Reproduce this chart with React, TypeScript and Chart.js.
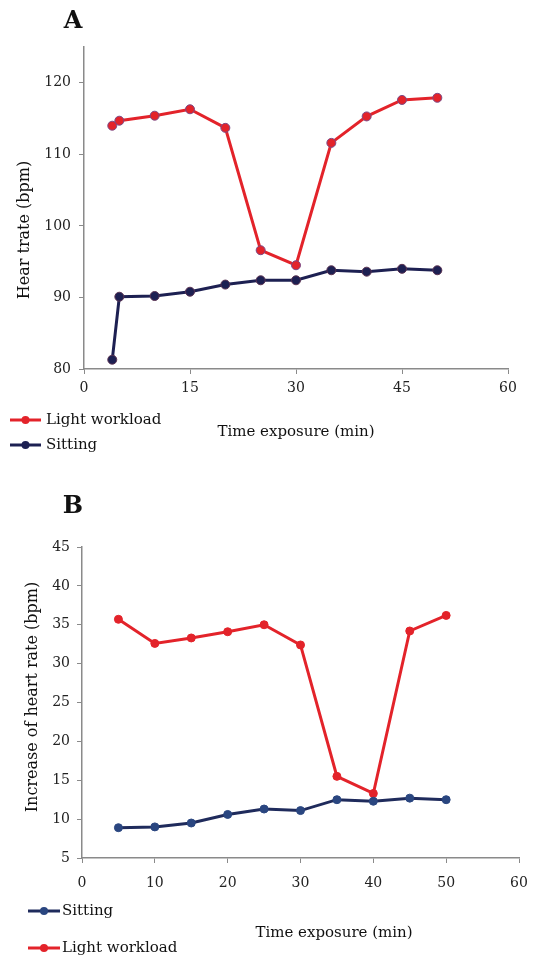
import React, { useEffect, useRef } from "react";
import { Chart, registerables } from "chart.js";
Chart.register(...registerables);

// ---------- Data ----------
const timeA = [4, 5, 10, 15, 20, 25, 30, 35, 40, 45, 50];
const lightA = [114.0, 114.7, 115.4, 116.3, 113.7, 96.6, 94.5, 111.6, 115.3, 117.6, 117.9];
const sittingA = [81.3, 90.1, 90.2, 90.8, 91.8, 92.4, 92.4, 93.8, 93.6, 94.0, 93.8];

const timeB = [5, 10, 15, 20, 25, 30, 35, 40, 45, 50];
const sittingB = [8.9, 9.0, 9.5, 10.6, 11.3, 11.1, 12.5, 12.3, 12.7, 12.5];
const lightB = [35.7, 32.6, 33.3, 34.1, 35.0, 32.4, 15.5, 13.3, 34.2, 36.2];

const labelLight = "Light workload";
const labelSitting = "Sitting";
const xTitleText = "Time exposure (min)";
const yTitleA = "Hear trate (bpm)";
const yTitleB = "Increase of heart rate (bpm)";

const FONT = "'DejaVu Serif', serif";
const RED = "#e3232a";
const NAVY_A = "#1d2052";
const NAVY_B = "#1f2b5c";

const toPts = (xs: number[], ys: number[]) => xs.map((x, i) => ({ x, y: ys[i] }));

const extrasPlugin = {
  id: "extras",
  afterDraw(chart: any, _args: any, opts: any) {
    const ctx = chart.ctx as CanvasRenderingContext2D;
    ctx.save();
    ctx.fillStyle = "#111";
    ctx.textAlign = "center";
    ctx.textBaseline = "middle";
    ctx.font = `bold 24px ${FONT}`;
    ctx.fillText(opts.letter, opts.letterX, opts.letterY);

    ctx.font = `15px ${FONT}`;
    ctx.fillText(opts.xTitle, opts.xTitleX, opts.xTitleY);

    ctx.save();
    ctx.font = `16px ${FONT}`;
    ctx.translate(opts.yTitleX, opts.yTitleY);
    ctx.rotate(-Math.PI / 2);
    ctx.fillText(opts.yTitle, 0, 0);
    ctx.restore();

    (opts.legend || []).forEach((item: any) => {
      const ds = chart.data.datasets[item.index];
      ctx.strokeStyle = ds.borderColor;
      ctx.lineWidth = 3;
      ctx.beginPath();
      ctx.moveTo(item.x0, item.y);
      ctx.lineTo(item.x1, item.y);
      ctx.stroke();
      ctx.fillStyle = ds.pointBackgroundColor;
      ctx.beginPath();
      ctx.arc((item.x0 + item.x1) / 2, item.y, 4, 0, Math.PI * 2);
      ctx.fill();
      ctx.fillStyle = "#111";
      ctx.textAlign = "left";
      ctx.font = `15px ${FONT}`;
      ctx.fillText(ds.label, item.tx, item.y);
    });
    ctx.restore();
  },
};

function makeScales(opts: {
  xMax: number; xStep: number; yMin: number; yMax: number; yStep: number;
  yWidth: number; xHeight: number; xPad: number; yPad: number;
}) {
  const axisColor = "#8a8a8a";
  const tickFont = { family: FONT, size: 14 };
  return {
    x: {
      type: "linear",
      min: 0,
      max: opts.xMax,
      border: { display: true, color: axisColor, width: 1.5 },
      grid: { display: true, drawOnChartArea: false, drawTicks: true, tickLength: 5, color: axisColor },
      ticks: { stepSize: opts.xStep, font: tickFont, color: "#222", padding: opts.xPad, maxRotation: 0 },
      afterFit: (s: any) => { s.height = opts.xHeight; },
    },
    y: {
      type: "linear",
      min: opts.yMin,
      max: opts.yMax,
      border: { display: true, color: axisColor, width: 1.5 },
      grid: { display: true, drawOnChartArea: false, drawTicks: true, tickLength: 5, color: axisColor },
      ticks: { stepSize: opts.yStep, includeBounds: false, font: tickFont, color: "#222", padding: opts.yPad },
      afterFit: (s: any) => { s.width = opts.yWidth; },
    },
  };
}

function ChartA() {
  const ref = useRef<HTMLCanvasElement>(null);
  useEffect(() => {
    const chart = new Chart(ref.current as HTMLCanvasElement, {
      type: "line",
      data: {
        datasets: [
          {
            label: labelLight,
            data: toPts(timeA, lightA),
            borderColor: RED,
            backgroundColor: RED,
            pointBackgroundColor: RED,
            pointBorderColor: "#7b4a86",
            pointBorderWidth: 1,
            pointRadius: 4.5,
            borderWidth: 3,
            tension: 0,
          },
          {
            label: labelSitting,
            data: toPts(timeA, sittingA),
            borderColor: NAVY_A,
            backgroundColor: NAVY_A,
            pointBackgroundColor: NAVY_A,
            pointBorderColor: "#5a3352",
            pointBorderWidth: 1,
            pointRadius: 4.5,
            borderWidth: 3,
            tension: 0,
          },
        ],
      },
      options: {
        responsive: false,
        animation: false,
        layout: { padding: { left: 0, right: 41, top: 47, bottom: 0 } },
        plugins: {
          legend: { display: false },
          tooltip: { enabled: false },
          extras: {
            letter: "A", letterX: 73, letterY: 22,
            xTitle: xTitleText, xTitleX: 296, xTitleY: 432,
            yTitle: yTitleA, yTitleX: 25, yTitleY: 230,
            legend: [
              { index: 0, x0: 10, x1: 41, y: 420, tx: 46 },
              { index: 1, x0: 10, x1: 41, y: 445, tx: 46 },
            ],
          },
        } as any,
        scales: makeScales({
          xMax: 60, xStep: 15, yMin: 80, yMax: 125, yStep: 10,
          yWidth: 84, xHeight: 111, xPad: 6, yPad: 8,
        }) as any,
      },
      plugins: [extrasPlugin],
    } as any);
    return () => chart.destroy();
  }, []);
  return <canvas ref={ref} width={549} height={480} style={{ display: "block" }} />;
}

function ChartB() {
  const ref = useRef<HTMLCanvasElement>(null);
  useEffect(() => {
    const chart = new Chart(ref.current as HTMLCanvasElement, {
      type: "line",
      data: {
        datasets: [
          {
            label: labelSitting,
            data: toPts(timeB, sittingB),
            borderColor: NAVY_B,
            backgroundColor: NAVY_B,
            pointBackgroundColor: "#2a4680",
            pointBorderColor: "#2a4680",
            pointBorderWidth: 1,
            pointRadius: 4,
            borderWidth: 3,
            tension: 0,
          },
          {
            label: labelLight,
            data: toPts(timeB, lightB),
            borderColor: RED,
            backgroundColor: RED,
            pointBackgroundColor: RED,
            pointBorderColor: RED,
            pointBorderWidth: 1,
            pointRadius: 4,
            borderWidth: 3,
            tension: 0,
          },
        ],
      },
      options: {
        responsive: false,
        animation: false,
        layout: { padding: { left: 0, right: 30, top: 67, bottom: 0 } },
        plugins: {
          legend: { display: false },
          tooltip: { enabled: false },
          extras: {
            letter: "B", letterX: 73, letterY: 27,
            xTitle: xTitleText, xTitleX: 334, xTitleY: 453,
            yTitle: yTitleB, yTitleX: 33, yTitleY: 217,
            legend: [
              { index: 0, x0: 28, x1: 60, y: 431, tx: 62 },
              { index: 1, x0: 28, x1: 60, y: 468, tx: 62 },
            ],
          },
        } as any,
        scales: makeScales({
          xMax: 60, xStep: 10, yMin: 5, yMax: 45, yStep: 5,
          yWidth: 82, xHeight: 101, xPad: 12, yPad: 7,
        }) as any,
      },
      plugins: [extrasPlugin],
    } as any);
    return () => chart.destroy();
  }, []);
  return <canvas ref={ref} width={549} height={479} style={{ display: "block" }} />;
}

export default function App() {
  return (
    <div style={{ position: "absolute", left: 0, top: 0, width: 549, height: 959, background: "#fff" }}>
      <ChartA />
      <ChartB />
    </div>
  );
}
